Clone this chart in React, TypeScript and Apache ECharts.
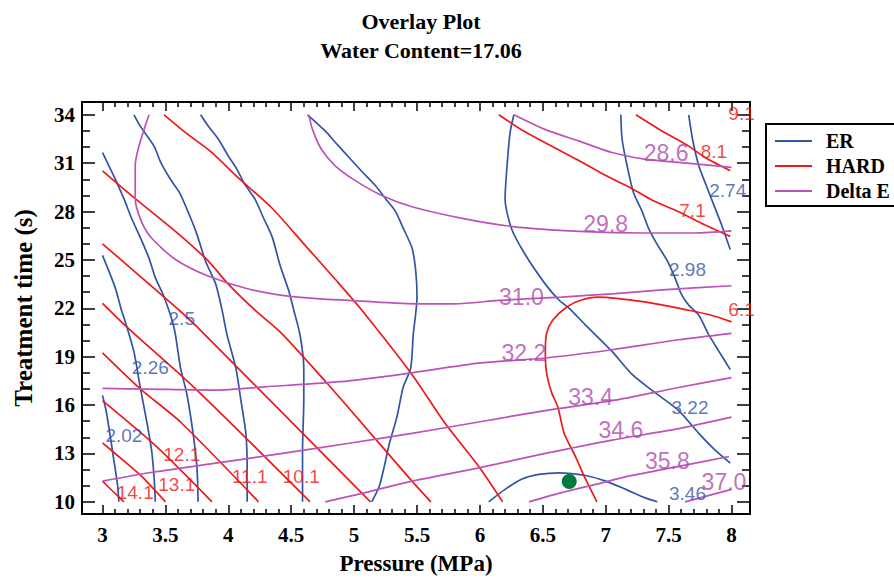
import React, { useEffect, useRef } from "react";
import * as echarts from "echarts";

// ---- axis ticks ----
const xTickValues = [3, 3.5, 4, 4.5, 5, 5.5, 6, 6.5, 7, 7.5, 8];
const xMinorValues = [3.1, 3.2, 3.3, 3.4, 3.6, 3.7, 3.8, 3.9, 4.1, 4.2, 4.3, 4.4, 4.6, 4.7, 4.8, 4.9, 5.1, 5.2, 5.3, 5.4, 5.6, 5.7, 5.8, 5.9, 6.1, 6.2, 6.3, 6.4, 6.6, 6.7, 6.8, 6.9, 7.1, 7.2, 7.3, 7.4, 7.6, 7.7, 7.8, 7.9];
const yTickValues = [10, 13, 16, 19, 22, 25, 28, 31, 34];
const yMinorValues = [11, 12, 14, 15, 17, 18, 20, 21, 23, 24, 26, 27, 29, 30, 32, 33];

// ---- ER contours (Pressure, Treatment time) ----
const er202 = [[3.0, 16.6], [3.03, 15.6], [3.05, 14.64], [3.09, 12.6], [3.12, 11.0], [3.13, 10.0]];
const er226 = [[3.0, 25.28], [3.1, 23.3], [3.15, 21.9], [3.18, 21.2], [3.25, 19.3], [3.3, 17.1], [3.35, 15.05], [3.39, 13.2], [3.41, 11.5], [3.42, 10.0]];
const er250 = [[3.0, 31.66], [3.09, 30.2], [3.17, 28.8], [3.23, 27.6], [3.3, 26.4], [3.37, 25.1], [3.42, 23.9], [3.49, 22.7], [3.57, 20.75], [3.62, 18.3], [3.67, 16.7], [3.72, 14.24], [3.75, 12.2], [3.76, 10.0]];
const er274a = [[3.25, 34], [3.3, 33.3], [3.41, 32.06], [3.46, 31.1], [3.54, 30.0], [3.61, 29.2], [3.69, 27.8], [3.75, 26.6], [3.82, 24.9], [3.9, 23.5], [3.95, 21.9], [3.99, 20.35], [4.06, 18.3], [4.1, 16.3], [4.14, 14.2], [4.15, 12.0], [4.15, 10.0]];
const er298a = [[3.78, 34], [3.84, 33.3], [3.92, 32.5], [4.0, 31.45], [4.07, 30.6], [4.13, 29.7], [4.21, 28.8], [4.28, 27.6], [4.35, 26.4], [4.41, 24.7], [4.48, 23.1], [4.52, 21.9], [4.57, 20.35], [4.6, 18.3], [4.6, 16.3], [4.59, 13.2], [4.59, 10.0]];
const er322a = [[4.63, 34], [4.77, 33.0], [4.85, 32.3], [4.96, 31.35], [5.06, 30.5], [5.17, 29.6], [5.25, 28.8], [5.33, 28.0], [5.39, 26.97], [5.46, 25.75], [5.49, 24.3], [5.5, 22.7], [5.47, 20.35], [5.45, 18.3], [5.39, 17.1], [5.34, 15.25], [5.28, 13.6], [5.24, 12.2], [5.2, 10.97], [5.14, 10.0]];
const er322b = [[6.27, 34], [6.24, 32.9], [6.22, 31.25], [6.2, 28.8], [6.25, 26.97], [6.36, 25.34], [6.52, 23.5], [6.63, 22.5], [6.71, 22.0], [6.84, 20.96], [7.05, 19.33], [7.21, 17.9], [7.37, 16.9], [7.58, 15.66], [7.74, 14.24], [7.87, 13.2], [7.99, 12.4]];
const er298b = [[7.12, 34], [7.13, 32.5], [7.17, 30.84], [7.22, 29.2], [7.29, 28.0], [7.34, 26.97], [7.41, 25.95], [7.49, 24.94], [7.55, 23.9], [7.6, 22.9], [7.66, 22.2], [7.74, 21.57], [7.82, 20.35], [7.9, 19.33], [7.99, 18.2]];
const er274b = [[7.66, 34], [7.69, 32.5], [7.74, 30.84], [7.8, 29.6], [7.86, 28.4], [7.92, 27.2], [7.99, 25.65]];
const er346 = [[6.07, 10.0], [6.2, 10.77], [6.33, 11.4], [6.47, 11.7], [6.63, 11.8], [6.84, 11.63], [7.0, 11.28], [7.16, 10.77], [7.31, 10.26], [7.41, 10.0]];
const erContours = [er202, er226, er250, er274a, er298a, er322a, er322b, er298b, er274b, er346];
const erLabelTexts = ["2.02", "2.26", "2.5", "2.74", "2.98", "3.22", "3.46"];
const erLabelAt = [[3.17, 14.09], [3.38, 18.35], [3.63, 21.37], [7.97, 29.31], [7.65, 24.42], [7.67, 15.83], [7.65, 10.53]];

// ---- HARD contours ----
const h141 = [[3.0, 11.28], [3.08, 10.67], [3.17, 10.0]];
const h131 = [[3.0, 13.66], [3.16, 12.6], [3.31, 11.59], [3.5, 10.0]];
const h121 = [[3.0, 16.27], [3.43, 13.42], [3.87, 10.0]];
const h111 = [[3.0, 19.23], [3.3, 17.0], [3.62, 14.95], [4.24, 10.0]];
const h101 = [[3.0, 22.3], [3.19, 20.86], [3.75, 16.93], [4.65, 10.0]];
const h91 = [[3.0, 26.0], [3.49, 22.7], [3.61, 21.88], [3.75, 20.86], [5.13, 10.0]];
const h81a = [[3.0, 30.53], [3.26, 28.8], [3.58, 26.77], [3.84, 24.94], [4.0, 23.5], [4.21, 21.9], [4.41, 20.55], [4.78, 17.4], [4.94, 15.97], [5.46, 11.28], [5.61, 10.0]];
const h71a = [[3.49, 34], [3.66, 32.9], [3.87, 31.66], [4.06, 30.23], [4.35, 28.19], [4.6, 26.0], [4.85, 23.8], [5.06, 21.9], [5.46, 17.9], [5.72, 14.9], [5.99, 12.2], [6.18, 10.0]];
const h71b = [[6.15, 34], [6.33, 33.08], [6.57, 32.06], [6.79, 31.15], [7.0, 30.23], [7.21, 29.42], [7.37, 28.7], [7.58, 27.99], [7.79, 27.17], [7.99, 26.46]];
const h81b = [[7.24, 34], [7.45, 32.98], [7.66, 32.06], [7.79, 31.35], [7.99, 30.53]];
const h61 = [[8.0, 21.16], [7.84, 21.57], [7.66, 21.88], [7.31, 22.4], [6.94, 22.7], [6.8, 22.5], [6.69, 22.08], [6.58, 21.27], [6.53, 20.45], [6.52, 19.23], [6.53, 18.0], [6.57, 16.78], [6.62, 15.87], [6.67, 14.24], [6.76, 12.8], [6.84, 11.4], [6.93, 10.0]];
const hardContours = [h141, h131, h121, h111, h101, h91, h81a, h71a, h71b, h81b, h61];
const hardLabelTexts = ["14.1", "13.1", "12.1", "11.1", "10.1", "9.1", "8.1", "7.1", "6.1"];
const hardLabelAt = [[3.26, 10.57], [3.59, 11.08], [3.63, 12.91], [4.17, 11.59], [4.58, 11.59], [8.08, 34.1], [7.86, 31.72], [7.69, 28.09], [8.08, 21.9]];

// ---- Delta E contours ----
const d286 = [[6.27, 34], [6.52, 33.08], [6.79, 32.37], [7.05, 31.66], [7.31, 31.25], [7.58, 31.05], [8.0, 30.74]];
const d298 = [[4.64, 34], [4.67, 33.08], [4.74, 31.86], [4.85, 30.84], [5.01, 29.92], [5.22, 29.0], [5.46, 28.3], [5.86, 27.58], [6.26, 27.07], [6.79, 26.77], [7.31, 26.67], [7.71, 26.67], [8.0, 26.8]];
const d310 = [[3.37, 34], [3.26, 30.84], [3.26, 28.8], [3.31, 27.38], [3.39, 26.36], [3.58, 25.03], [3.84, 24.0], [4.16, 23.2], [4.51, 22.73], [4.96, 22.49], [5.49, 22.28], [5.8, 22.28], [6.15, 22.49], [6.65, 22.7], [7.05, 22.9], [7.45, 23.14], [8.0, 23.4]];
const d322 = [[3.0, 17.03], [3.37, 16.99], [3.9, 16.93], [4.29, 17.13], [4.96, 17.5], [5.46, 18.0], [5.99, 18.6], [6.52, 18.92], [7.05, 19.43], [7.58, 20.05], [8.0, 20.45]];
const d334 = [[3.0, 11.28], [3.37, 11.8], [3.9, 12.4], [4.43, 13.0], [4.96, 13.63], [5.46, 14.24], [5.99, 14.95], [6.52, 15.66], [7.05, 16.27], [7.58, 17.09], [8.0, 17.7]];
const d346 = [[4.77, 10.0], [5.09, 10.57], [5.46, 11.28], [5.99, 12.1], [6.52, 13.0], [7.05, 13.83], [7.58, 14.54], [8.0, 15.25]];
const d358 = [[6.39, 10.0], [6.65, 10.57], [6.92, 11.08], [7.18, 11.59], [7.58, 12.2], [7.98, 12.81]];
const d370 = [[7.63, 10.0], [8.0, 10.77]];
const deltaContours = [d286, d298, d310, d322, d334, d346, d358, d370];
const deltaLabelTexts = ["28.6", "29.8", "31.0", "32.2", "33.4", "34.6", "35.8", "37.0"];
const deltaLabelAt = [[7.48, 31.62], [7.0, 27.2], [6.33, 22.7], [6.35, 19.23], [6.88, 16.52], [7.12, 14.44], [7.49, 12.5], [7.94, 11.22]];

// ---- optimum point ----
const optimumPoint = [[6.71, 11.26]];

const X_MIN = 2.837;
const X_MAX = 8.147;
const Y_MIN = 9.244;
const Y_MAX = 34.795;

const ER_COLOR = "#3155a6";
const HARD_COLOR = "#f01818";
const DELTA_COLOR = "#bd52b8";
const SERIF = "'Liberation Serif', 'Times New Roman', serif";
const SANS = "'Liberation Sans', Arial, sans-serif";

function contourSeries(name: string, list: number[][][], color: string) {
  return list.map((pts) => ({
    type: "line",
    name,
    data: pts,
    symbol: "none",
    showSymbol: false,
    smooth: 0.25,
    silent: true,
    lineStyle: { color, width: 1.7 },
    itemStyle: { color },
  }));
}

function labelSeries(name: string, texts: string[], at: number[][], color: string, size: number) {
  return {
    type: "scatter",
    name,
    symbolSize: 1,
    silent: true,
    itemStyle: { color: "rgba(0,0,0,0)" },
    z: 5,
    data: texts.map((t, i) => ({ name: t, value: at[i] })),
    label: {
      show: true,
      position: "inside",
      formatter: (p: any) => p.name,
      color,
      fontSize: size,
      fontFamily: SANS,
    },
  };
}

function xAxisDef(position: string, ticks: number[], len: number, showLine: boolean, showLabel: boolean) {
  return {
    type: "value",
    position,
    min: X_MIN,
    max: X_MAX,
    splitLine: { show: false },
    axisLine: { show: showLine, onZero: false, lineStyle: { color: "#000", width: 2 } },
    axisTick: { show: true, inside: true, length: len, customValues: ticks, lineStyle: { color: "#000", width: 1.5 } },
    axisLabel: {
      show: showLabel,
      customValues: ticks,
      formatter: (v: number) => String(v),
      color: "#000",
      fontFamily: SERIF,
      fontWeight: "bold",
      fontSize: 21,
      margin: 10,
    },
  };
}

function yAxisDef(position: string, ticks: number[], len: number, showLine: boolean, showLabel: boolean) {
  return {
    type: "value",
    position,
    min: Y_MIN,
    max: Y_MAX,
    splitLine: { show: false },
    axisLine: { show: showLine, onZero: false, lineStyle: { color: "#000", width: 2 } },
    axisTick: { show: true, inside: true, length: len, customValues: ticks, lineStyle: { color: "#000", width: 1.5 } },
    axisLabel: {
      show: showLabel,
      customValues: ticks,
      formatter: (v: number) => String(v),
      color: "#000",
      fontFamily: SERIF,
      fontWeight: "bold",
      fontSize: 21,
      margin: 7,
    },
  };
}

export default function App() {
  const ref = useRef<HTMLDivElement>(null);
  useEffect(() => {
    document.body.style.margin = "0";
    const chart = echarts.init(ref.current!, null, { renderer: "svg" });
    const xMain: any = xAxisDef("bottom", xTickValues, 9, true, true);
    xMain.name = "Pressure (MPa)";
    xMain.nameLocation = "middle";
    xMain.nameGap = 38;
    xMain.nameTextStyle = { fontFamily: SERIF, fontWeight: "bold", fontSize: 23, color: "#000" };
    const yMain: any = yAxisDef("left", yTickValues, 13, true, true);
    yMain.name = "Treatment time (s)";
    yMain.nameLocation = "middle";
    yMain.nameGap = 46;
    yMain.nameTextStyle = { fontFamily: SERIF, fontWeight: "bold", fontSize: 25, color: "#000" };

    const option: any = {
      animation: false,
      backgroundColor: "#fff",
      title: {
        text: "Overlay Plot\nWater Content=17.06",
        left: 416,
        top: 2,
        textAlign: "center",
        textStyle: { fontFamily: SERIF, fontWeight: "bold", fontSize: 22, color: "#000", lineHeight: 29 },
      },
      grid: { left: 82, right: 144, top: 102, bottom: 60, containLabel: false },
      legend: {
        data: [
          { name: "ER", icon: "rect" },
          { name: "HARD", icon: "rect" },
          { name: "Delta E", icon: "rect" },
        ],
        orient: "vertical",
        left: 766,
        top: 124,
        itemWidth: 37,
        itemHeight: 2,
        itemGap: 5,
        padding: [7, 80, 5, 9],
        borderColor: "#000",
        borderWidth: 2,
        selectedMode: false,
        textStyle: { fontFamily: SERIF, fontWeight: "bold", fontSize: 20, color: "#000", lineHeight: 20, padding: [0, 0, 0, 9] },
      },
      xAxis: [
        xMain,
        xAxisDef("bottom", xMinorValues, 5, false, false),
        xAxisDef("top", xTickValues, 9, true, false),
        xAxisDef("top", xMinorValues, 5, false, false),
      ],
      yAxis: [
        yMain,
        yAxisDef("left", yMinorValues, 8, false, false),
        yAxisDef("right", yTickValues, 13, true, false),
        yAxisDef("right", yMinorValues, 8, false, false),
      ],
      series: [
        ...contourSeries("ER", erContours, ER_COLOR),
        ...contourSeries("HARD", hardContours, HARD_COLOR),
        ...contourSeries("Delta E", deltaContours, DELTA_COLOR),
        labelSeries("ER labels", erLabelTexts, erLabelAt, "#3553a8", 19),
        labelSeries("HARD labels", hardLabelTexts, hardLabelAt, "#f01515", 19),
        labelSeries("Delta E labels", deltaLabelTexts, deltaLabelAt, "#b04aac", 23),
        {
          type: "scatter",
          name: "Optimum",
          data: optimumPoint,
          symbolSize: 15,
          silent: true,
          z: 6,
          itemStyle: { color: "#007a3d", opacity: 1 },
        },
      ],
    };
    chart.setOption(option);
    return () => chart.dispose();
  }, []);
  return <div ref={ref} style={{ width: 894, height: 580 }} />;
}
